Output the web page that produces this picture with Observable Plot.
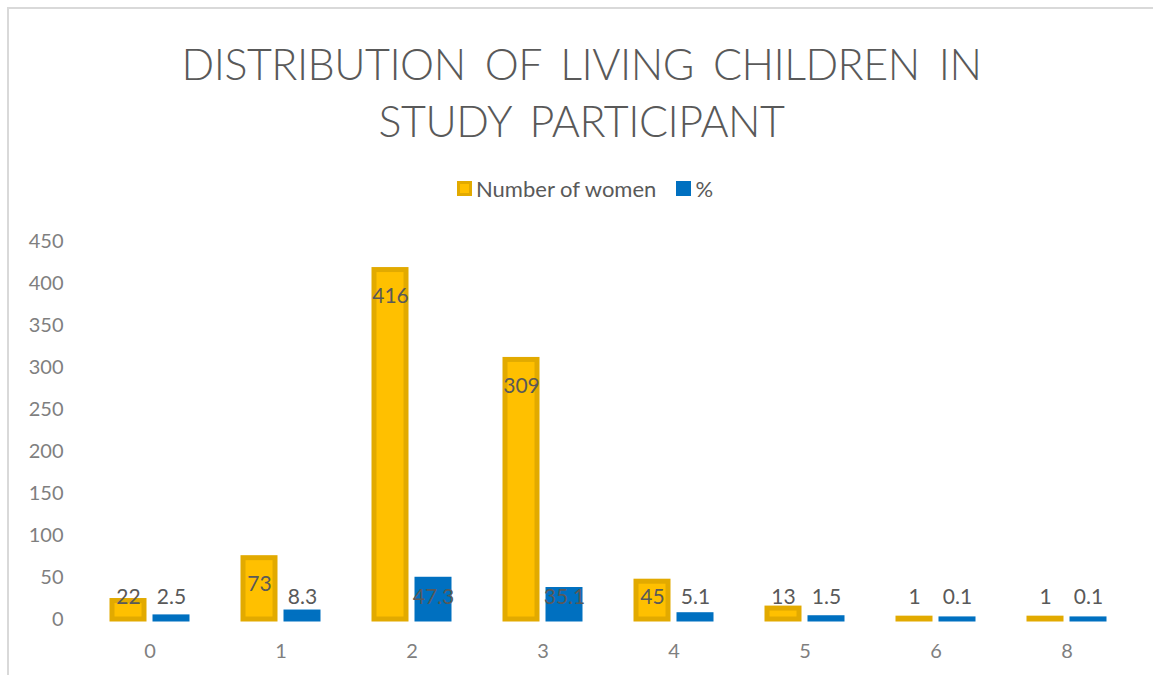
<!DOCTYPE html>
<html>
<head>
<meta charset="utf-8">
<script src="https://cdn.jsdelivr.net/npm/d3@7"></script>
<script src="https://cdn.jsdelivr.net/npm/@observablehq/plot@0.6"></script>
<style>
  html, body { margin: 0; padding: 0; background: #fff; }
  #wrap { position: relative; width: 1153px; height: 675px; overflow: hidden; font-family: Lato, "Open Sans", sans-serif; }
  #frame { position: absolute; left: 7px; top: 7px; width: 1160px; height: 700px; border-top: 2px solid #d9d9d9; border-left: 2px solid #d9d9d9; }
  #title { position: absolute; left: 0; width: 1163px; top: 35px; text-align: center; color: #595959; font-size: 43px; font-weight: 300; line-height: 57px; word-spacing: 8px; letter-spacing: -0.5px; }
  #legend { position: absolute; left: 0; width: 1170px; top: 176px; text-align: center; color: #595959; font-size: 22px; line-height: 24px; }
  .item { display: inline-flex; align-items: center; margin: 0 10px; }
  .sw { display: inline-block; width: 15px; height: 15px; margin-right: 4px; box-sizing: border-box; }
  #chart { position: absolute; left: 0; top: 220px; }
</style>
</head>
<body>
<div id="wrap">
  <div id="frame"></div>
  <div id="title">DISTRIBUTION OF LIVING CHILDREN IN<br>STUDY PARTICIPANT</div>
  <div id="legend"></div>
  <div id="chart"></div>
</div>
<script>
const categories = ["0", "1", "2", "3", "4", "5", "6", "8"];
const women = [22, 73, 416, 309, 45, 13, 1, 1];
const percent = [2.5, 8.3, 47.3, 35.1, 5.1, 1.5, 0.1, 0.1];
const seriesNames = ["Number of women", "%"];
const yTicks = [0, 50, 100, 150, 200, 250, 300, 350, 400, 450];

const fills = ["#FFC000", "#0070C0"];
const strokes = ["#E2AA00", "#0070C0"];

const data = categories.flatMap((c, i) => [
  {cat: c, series: seriesNames[0], value: women[i]},
  {cat: c, series: seriesNames[1], value: percent[i]}
]);

// legend
const legend = document.getElementById("legend");
seriesNames.forEach((s, i) => {
  const item = document.createElement("span");
  item.className = "item";
  const sw = document.createElement("span");
  sw.className = "sw";
  sw.style.background = fills[i];
  sw.style.border = `3px solid ${strokes[i]}`;
  item.appendChild(sw);
  item.appendChild(document.createTextNode(s));
  legend.appendChild(item);
});

const chart = Plot.plot({
  width: 1153,
  height: 454,
  marginTop: 21,
  marginBottom: 55,
  marginLeft: 83,
  marginRight: 21,
  style: {fontFamily: "Lato, 'Open Sans', sans-serif", fontSize: "20px", color: "#7f7f7f", background: "transparent", overflow: "visible"},
  fx: {domain: categories, padding: 0, label: null, axis: null},
  x: {domain: seriesNames, axis: null, paddingInner: 0.25, paddingOuter: 0.614},
  y: {domain: [0, 450], axis: null},
  marks: [
    ...seriesNames.map((s, i) => Plot.barY(data.filter(d => d.series === s), {
      fx: "cat", x: "series", y: "value",
      fill: fills[i], stroke: strokes[i], strokeWidth: 5
    })),
    Plot.text(data, {
      fx: "cat", x: "series",
      y: d => Math.max(d.value, 58), dy: 26,
      text: d => String(d.value),
      fill: "#595959", fontSize: 21
    }),
    Plot.axisFx({anchor: "bottom", tickSize: 0, tickPadding: 24, label: null, fill: "#7f7f7f", fontSize: 20}),
    Plot.axisY({ticks: yTicks, tickSize: 0, tickPadding: 21, label: null, fill: "#7f7f7f", fontSize: 20})
  ]
});
document.getElementById("chart").appendChild(chart);
</script>
</body>
</html>
